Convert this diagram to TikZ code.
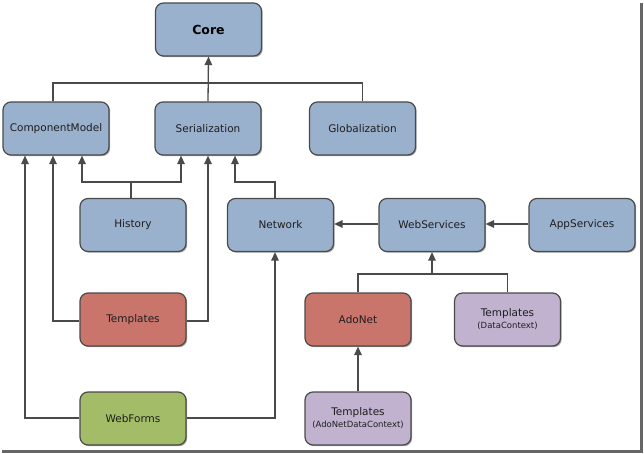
\documentclass[tikz,border=0pt]{standalone}
\usepackage{fontspec}
\setmainfont{DejaVu Sans}
\usetikzlibrary{arrows.meta,shadows,calc}
\definecolor{bluef}{HTML}{9AB1CD}
\definecolor{redf}{HTML}{C9756C}
\definecolor{greenf}{HTML}{A2BC67}
\definecolor{purpf}{HTML}{C1B2D0}
\definecolor{edge}{HTML}{4A4A4A}
\definecolor{txt}{HTML}{1E1E1E}
\tikzset{
  box/.style={draw=edge, line width=1.2pt, rounded corners=8pt, minimum width=106pt, minimum height=53pt,
    inner sep=0pt, align=center, text=txt, font=\fontsize{10.5}{13}\selectfont,
    drop shadow={shadow xshift=1.2pt, shadow yshift=-1.2pt, opacity=0.35, fill=black}},
  bluebox/.style={box, fill=bluef},
  redbox/.style={box, fill=redf},
  greenbox/.style={box, fill=greenf},
  purpbox/.style={box, fill=purpf},
  conn/.style={draw=edge, line width=1.3pt},
  arr/.style={conn, -{Triangle[length=8.5pt,width=7.5pt]}}
}
\begin{document}
\begin{tikzpicture}[x=1pt,y=-1pt]
\useasboundingbox (0,0) rectangle (644,454);
\fill[white] (0,0) rectangle (640,450);
% frame shadow
\draw[line width=2.5pt, color=black!60] (641.3,3) -- (641.3,451.3) -- (2,451.3);

\node[bluebox, font=\fontsize{12.5}{15}\selectfont\bfseries, text=black] (core) at (208.5,29.5) {Core};
\node[bluebox] (cm) at (56,128.5) {ComponentModel};
\node[bluebox] (ser) at (208,128.5) {Serialization};
\node[bluebox] (glob) at (362.5,128.5) {Globalization};
\node[bluebox] (hist) at (133,225) {History};
\node[bluebox] (net) at (280.5,225) {Network};
\node[bluebox] (ws) at (432,225) {WebServices};
\node[bluebox] (app) at (582,225) {AppServices};
\node[redbox] (tpl) at (133,319.5) {Templates};
\node[redbox] (ado) at (358,319.5) {AdoNet};
\node[purpbox] (tdc) at (507.5,319.5) {Templates\\[-1pt]{\fontsize{8.5}{10}\selectfont (DataContext)}};
\node[greenbox] (wf) at (133,418.5) {WebForms};
\node[purpbox] (tadc) at (358,418.5) {Templates\\[-1pt]{\fontsize{8.5}{10}\selectfont (AdoNetDataContext)}};

% to Core
\draw[arr] (ser.north) -- (core.south);
\draw[conn] (cm.north -| 53,0) |- (0,83 -| glob.north) -- (glob.north);
% History
\coordinate (hj) at (131,182);
\draw[conn] (hist.north -| hj) -- (hj);
\draw[arr] (hj) -| (cm.south -| 82,0);
\draw[arr] (hj) -| (ser.south -| 181,0);
% Network
\draw[arr] (net.north -| 275,0) |- (235,182) -- (ser.south -| 235,0);
% Templates
\draw[arr] (tpl.west |- 0,321) -| (cm.south -| 53,0);
\draw[arr] (tpl.east |- 0,321) -| (ser.south);
% WebForms
\draw[arr] (wf.west |- 0,418) -| (cm.south -| 25,0);
\draw[arr] (wf.east |- 0,418) -| (net.south -| 275,0);
% WebServices, AppServices
\draw[arr] (ws.west |- 0,224) -- (net.east |- 0,224);
\draw[arr] (app.west |- 0,224) -- (ws.east |- 0,224);
% AdoNet, TemplatesDC
\coordinate (aj) at (432,274);
\draw[conn] (ado.north) |- (aj) -| (tdc.north);
\draw[arr] (aj) -- (ws.south);
\draw[arr] (tadc.north) -- (ado.south);
\end{tikzpicture}
\end{document}
